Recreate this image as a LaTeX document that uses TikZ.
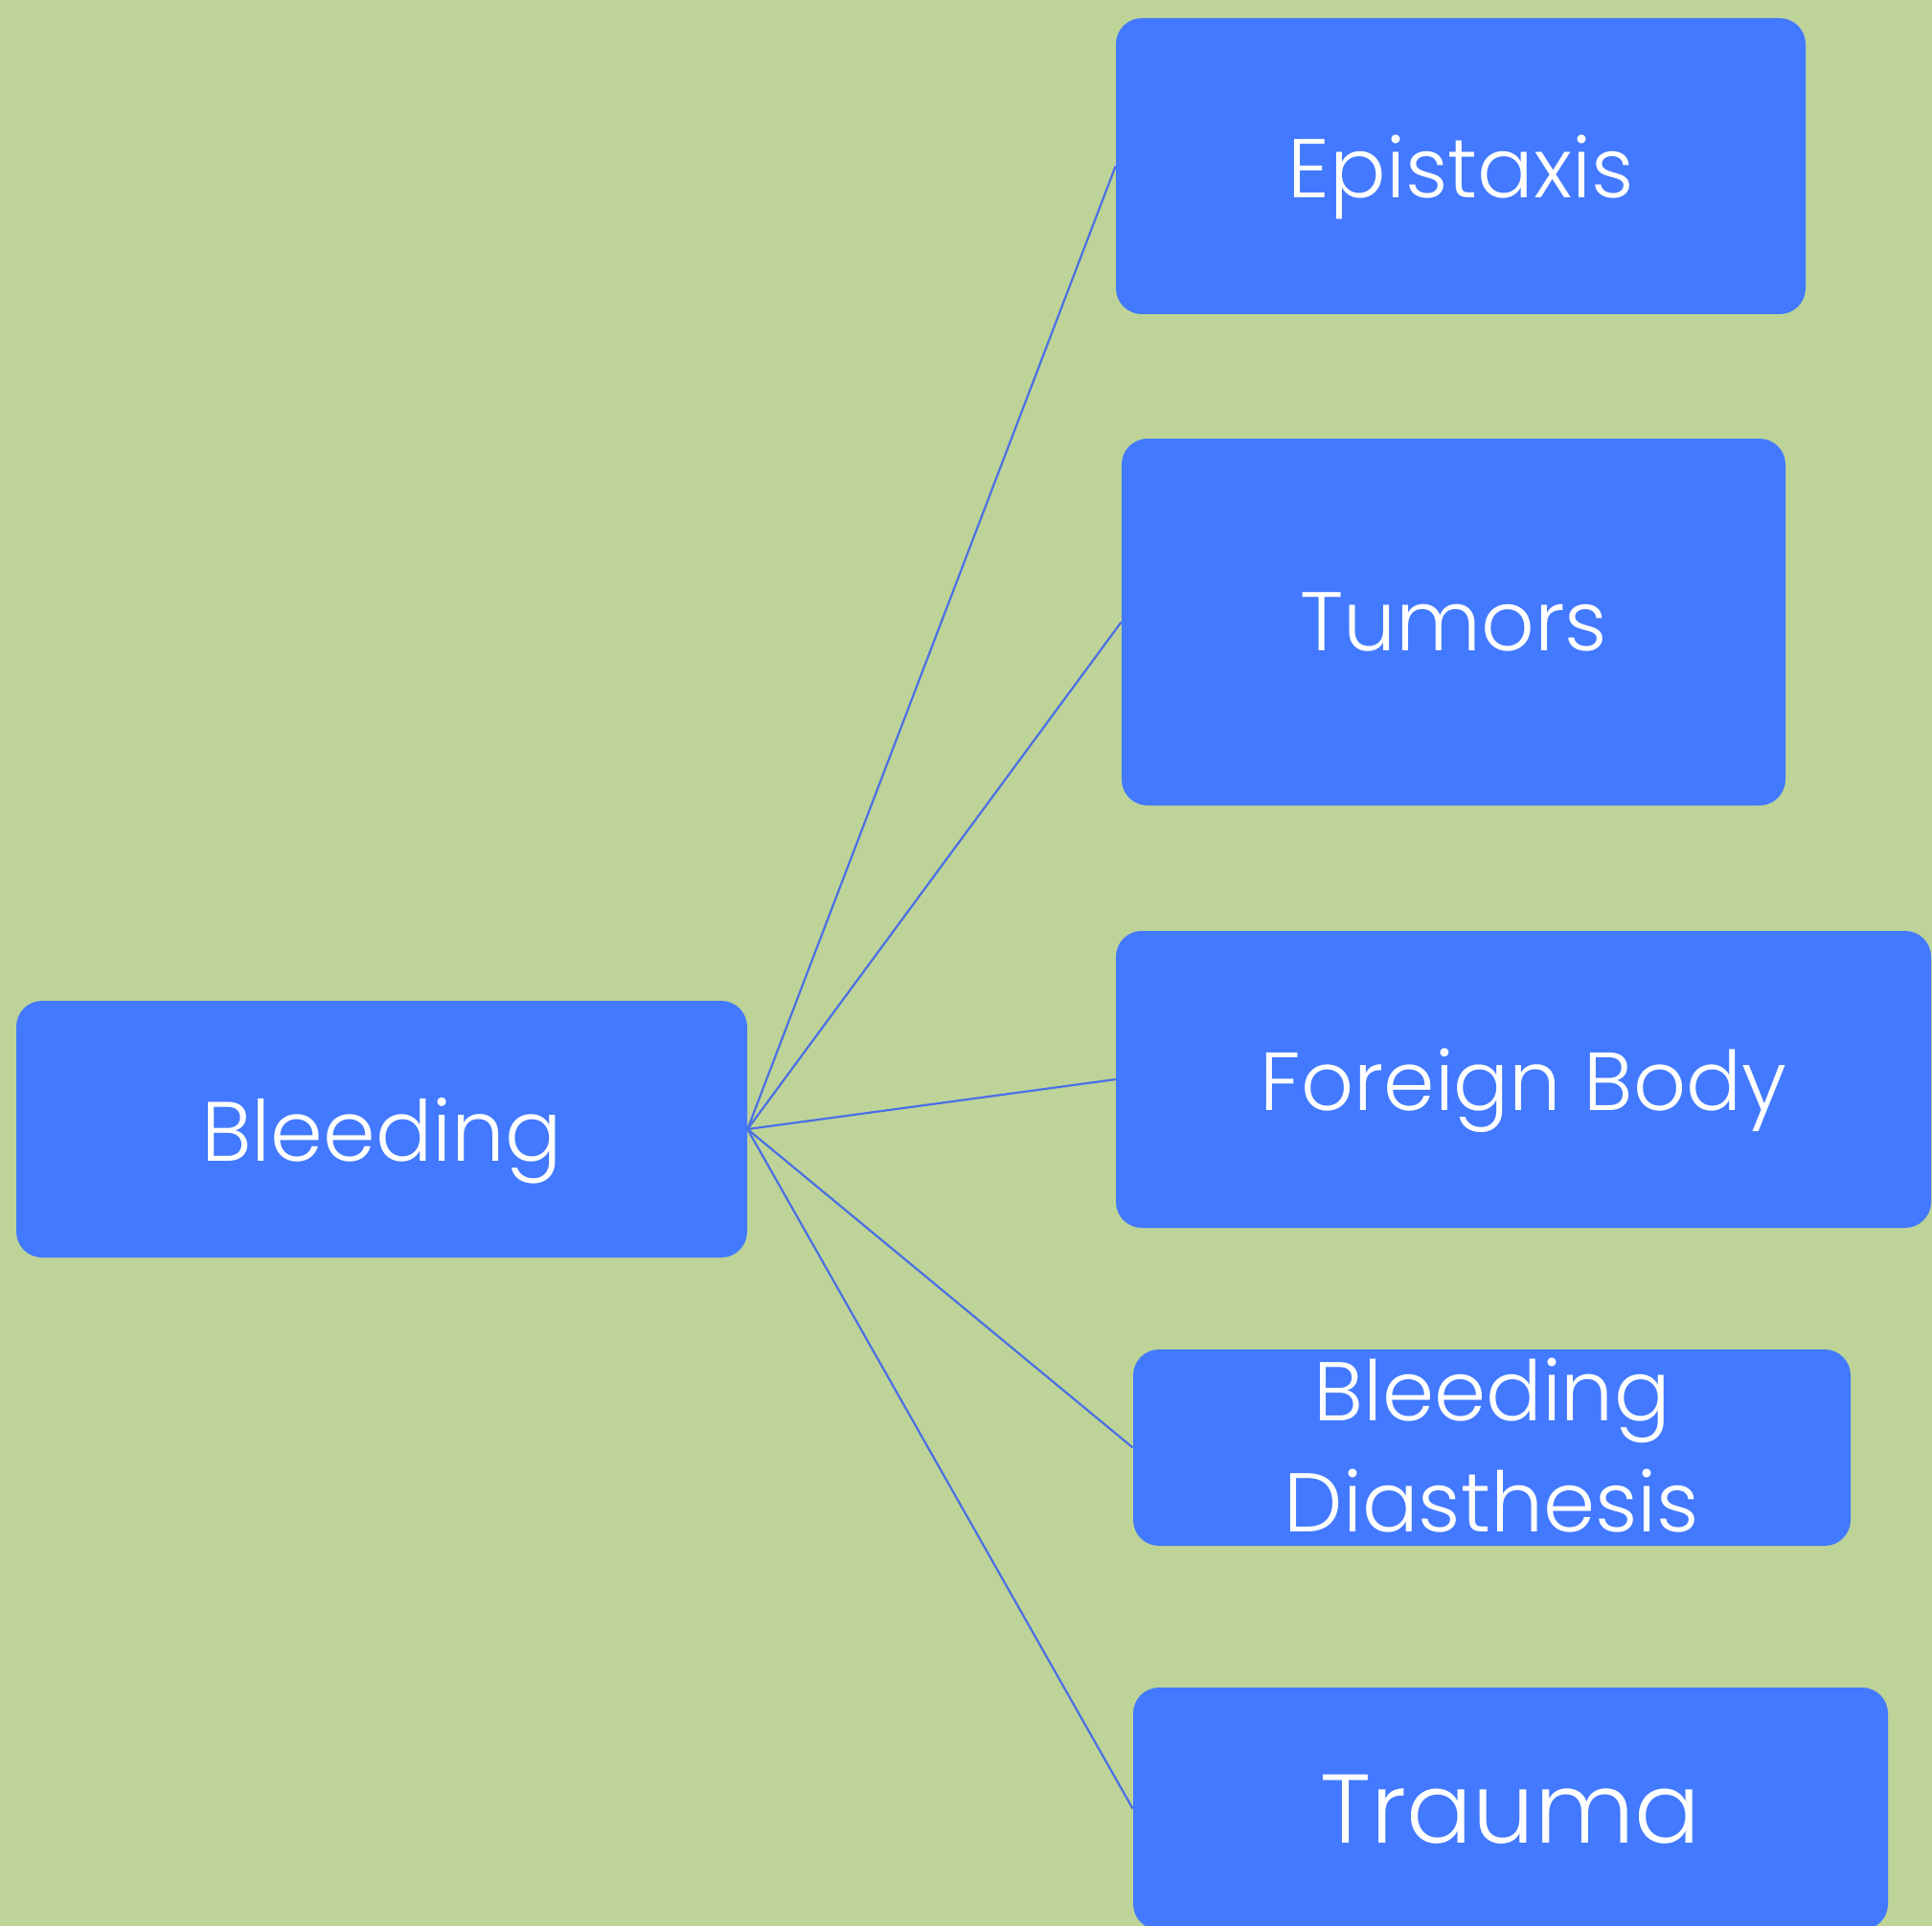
\documentclass[tikz,border=0pt]{standalone}
\usepackage{fontspec}
\setmainfont{Poppins}[UprightFont=* Light]
\definecolor{sage}{HTML}{BED398}
\definecolor{boxblue}{HTML}{4279FE}
\definecolor{linkblue}{HTML}{4A70E4}
\begin{document}
\begin{tikzpicture}[x=1pt,y=1pt,
  topic/.style={fill=boxblue, rounded corners=13.5pt, text=white, inner sep=0pt, align=center, text depth=0pt},
  link/.style={draw=linkblue, line width=1.1pt}]
  \fill[sage] (0,0) rectangle (1008.5,-1005.5);
  \useasboundingbox (0,0) rectangle (1008.5,-1005.5);
  \begin{scope}
  \clip (0,0) rectangle (1008.5,-1005.5);
  % central topic and its five causes
  \node[topic, minimum width=381.5pt, minimum height=134pt, font=\fontsize{44}{58}\selectfont] (bleed) at (199.25,-589.5) {Bleeding};
  \node[topic, minimum width=360pt, minimum height=154.5pt, font=\fontsize{43.5}{58}\selectfont] (epi) at (762.5,-86.75) {Epistaxis};
  \node[topic, minimum width=346.5pt, minimum height=191.5pt, font=\fontsize{43.5}{58}\selectfont] (tum) at (758.75,-324.75) {Tumors};
  \node[topic, minimum width=425.5pt, minimum height=155pt, font=\fontsize{43}{58}\selectfont] (fb) at (795.25,-563.5) {Foreign Body};
  \node[topic, minimum width=374.5pt, minimum height=102.5pt] (dia) at (778.75,-755.75) {};
  \node[text=white, inner sep=0pt, anchor=base, font=\fontsize{43.5}{58}\selectfont] (dia1) at (778.75,-741.5) {Bleeding};
  \node[text=white, inner sep=0pt, anchor=base, font=\fontsize{43.5}{58}\selectfont] (dia2) at (778.75,-799.5) {Diasthesis};
  \node[topic, minimum width=394pt, minimum height=126.5pt, font=\fontsize{51}{60}\selectfont] (tra) at (788.5,-944.25) {Trauma};
  % connectors
  \draw[link] (bleed.east) -- (epi.west);
  \draw[link] (bleed.east) -- (tum.west);
  \draw[link] (bleed.east) -- (fb.west);
  \draw[link] (bleed.east) -- (dia.west);
  \draw[link] (bleed.east) -- (tra.west);
  \end{scope}
\end{tikzpicture}
\end{document}
